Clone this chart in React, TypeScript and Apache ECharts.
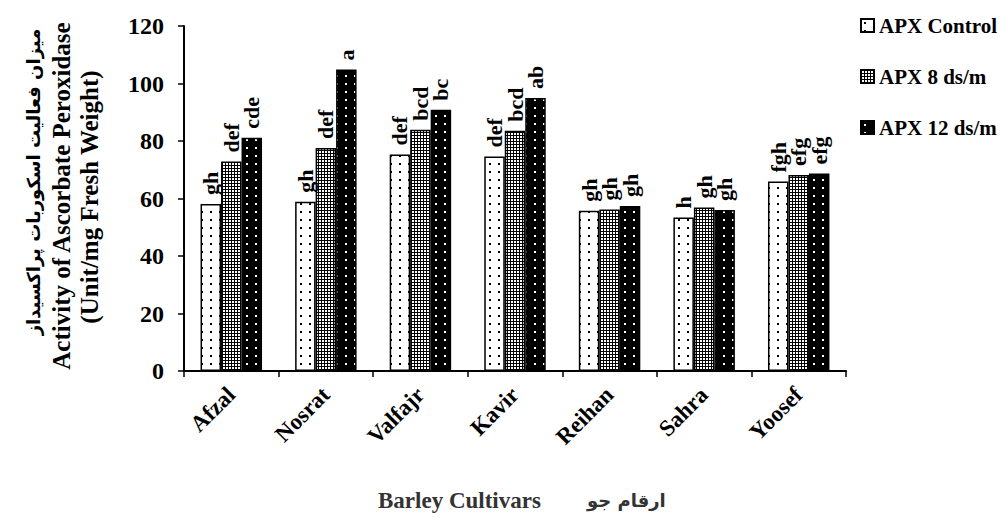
import React, { useEffect, useRef } from "react";
import * as echarts from "echarts";

const categories = ["Afzal", "Nosrat", "Valfajr", "Kavir", "Reihan", "Sahra", "Yoosef"];
const seriesNames = ["APX Control", "APX 8 ds/m", "APX 12 ds/m"];
const controlValues = [58.1, 58.9, 75.3, 74.6, 55.7, 53.4, 65.9];
const ds8Values = [72.9, 77.6, 83.9, 83.6, 56.2, 56.9, 68.2];
const ds12Values = [81.1, 104.9, 90.9, 95.0, 57.4, 56.0, 68.7];
const controlLetters = ["gh", "gh", "def", "def", "gh", "h", "fgh"];
const ds8Letters = ["def", "def", "bcd", "bcd", "gh", "gh", "efg"];
const ds12Letters = ["cde", "a", "bc", "ab", "gh", "gh", "efg"];
const yAxisTitle = ["میزان فعالیت اسکوربات پراکسیداز", "Activity of Ascorbate Peroxidase", "(Unit/mg Fresh Weight)"];
const xAxisTitleEn = "Barley Cultivars";
const xAxisTitleFa = "ارقام جو";

const SERIF = "'Liberation Serif', 'Times New Roman', 'DejaVu Serif', serif";
const PERSIAN = "'DejaVu Sans', 'Noto Sans', sans-serif";

function makePattern(kind: string): HTMLCanvasElement {
  const c = document.createElement("canvas");
  const ctx = c.getContext("2d")!;
  if (kind === "control") {
    c.width = 9; c.height = 8;
    ctx.fillStyle = "#fff"; ctx.fillRect(0, 0, 9, 8);
    ctx.fillStyle = "#000";
    ctx.fillRect(3, 3, 2, 2);
  } else if (kind === "ds8") {
    c.width = 3; c.height = 3;
    ctx.fillStyle = "#fff"; ctx.fillRect(0, 0, 3, 3);
    ctx.fillStyle = "#000";
    ctx.fillRect(0, 0, 3, 1);
    ctx.fillRect(0, 0, 1, 3);
  } else {
    c.width = 9; c.height = 8;
    ctx.fillStyle = "#000"; ctx.fillRect(0, 0, 9, 8);
    ctx.fillStyle = "#fff";
    ctx.fillRect(3, 3, 2, 2);
  }
  return c;
}

export default function App() {
  const ref = useRef<HTMLDivElement>(null);
  useEffect(() => {
    if (!ref.current) return;
    const chart = echarts.init(ref.current, undefined, { renderer: "svg" });
    const patterns = [makePattern("control"), makePattern("ds8"), makePattern("ds12")];
    const values = [controlValues, ds8Values, ds12Values];
    const letters = [controlLetters, ds8Letters, ds12Letters];
    const series = seriesNames.map((name, i) => ({
      name,
      type: "bar",
      data: values[i],
      barGap: "0%",
      barCategoryGap: "35%",
      itemStyle: {
        color: { image: patterns[i], repeat: "repeat" },
        borderColor: "#000",
        borderWidth: 1.5,
      },
      label: {
        show: true,
        position: "top",
        rotate: 90,
        align: "left",
        verticalAlign: "middle",
        distance: 9,
        color: "#000",
        fontFamily: SERIF,
        fontWeight: "bold",
        fontSize: 22,
        formatter: (p: any) => letters[i][p.dataIndex],
      },
    }));
    chart.setOption({
      animation: false,
      backgroundColor: "#fff",
      grid: { left: 184, right: 154, top: 26, bottom: 148, containLabel: false },
      legend: {
        orient: "vertical",
        left: 855,
        top: 10,
        itemWidth: 13,
        itemHeight: 13,
        itemGap: 30,
        icon: "rect",
        data: seriesNames,
        textStyle: { fontFamily: SERIF, fontWeight: "bold", fontSize: 21, color: "#000", lineHeight: 21 },
      },
      xAxis: {
        type: "category",
        data: categories,
        axisLine: { lineStyle: { color: "#000", width: 2 } },
        axisTick: { show: true, length: 6, alignWithLabel: false, lineStyle: { color: "#000", width: 1.5 } },
        axisLabel: {
          interval: 0,
          rotate: 45,
          margin: 20,
          color: "#000",
          fontFamily: SERIF,
          fontWeight: "bold",
          fontSize: 23,
        },
      },
      yAxis: {
        type: "value",
        min: 0,
        max: 120,
        interval: 20,
        splitLine: { show: false },
        axisLine: { show: true, lineStyle: { color: "#000", width: 2 } },
        axisTick: { show: true, length: 6, lineStyle: { color: "#000", width: 1.5 } },
        axisLabel: {
          margin: 20,
          color: "#000",
          fontFamily: SERIF,
          fontWeight: "bold",
          fontSize: 24,
        },
      },
      graphic: [
        {
          type: "text", x: 33, y: 182, rotation: Math.PI / 2,
          style: { text: yAxisTitle[0], fontFamily: PERSIAN, fontWeight: "bold", fontSize: 18, fill: "#000", align: "center", verticalAlign: "middle" },
        },
        {
          type: "text", x: 61, y: 196, rotation: Math.PI / 2,
          style: { text: yAxisTitle[1], fontFamily: SERIF, fontWeight: "bold", fontSize: 25, fill: "#000", align: "center", verticalAlign: "middle" },
        },
        {
          type: "text", x: 89, y: 197, rotation: Math.PI / 2,
          style: { text: yAxisTitle[2], fontFamily: SERIF, fontWeight: "bold", fontSize: 25, fill: "#000", align: "center", verticalAlign: "middle" },
        },
        {
          type: "text", x: 378, y: 500,
          style: { text: xAxisTitleEn, fontFamily: SERIF, fontWeight: "bold", fontSize: 23, fill: "#333", align: "left", verticalAlign: "middle" },
        },
        {
          type: "text", x: 587, y: 500,
          style: { text: xAxisTitleFa, fontFamily: PERSIAN, fontWeight: "bold", fontSize: 18, fill: "#333", align: "left", verticalAlign: "middle" },
        },
      ],
      series,
    });
    return () => chart.dispose();
  }, []);
  return <div ref={ref} style={{ position: "absolute", left: 0, top: 0, width: 1000, height: 519 }} />;
}
